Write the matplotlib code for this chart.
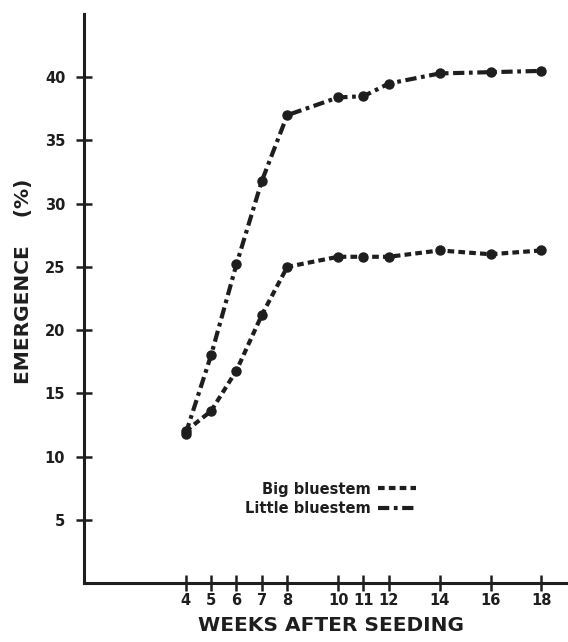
import matplotlib
matplotlib.use("Agg")
import matplotlib.pyplot as plt
from matplotlib.lines import Line2D

weeks = [4, 5, 6, 7, 8, 10, 11, 12, 14, 16, 18]
big_bluestem = [12.0, 13.6, 16.8, 21.2, 25.0, 25.8, 25.8, 25.8, 26.3, 26.0, 26.3]
little_bluestem = [11.8, 18.0, 25.2, 31.8, 37.0, 38.4, 38.5, 39.5, 40.3, 40.4, 40.5]
x_ticks = [4, 5, 6, 7, 8, 10, 11, 12, 14, 16, 18]
y_ticks = [5, 10, 15, 20, 25, 30, 35, 40]

plt.rcParams['font.family'] = ['DejaVu Sans']
plt.rcParams['font.weight'] = 'bold'

fig = plt.figure(figsize=(5.68, 6.42), dpi=100)
ax = fig.add_axes([84/568, 59/642, 484/568, 569/642])

ink = '#1e1e1e'
dash_lit = (2.7, 1.1, 0.9, 1.1)
dash_big = (1.6, 1.0)
ax.plot(weeks, little_bluestem, color=ink, lw=3.0, dashes=dash_lit,
        marker='o', ms=6.5, label='Little bluestem', dash_capstyle='butt')
ax.plot(weeks, big_bluestem, color=ink, lw=3.0, dashes=dash_big,
        marker='o', ms=6.5, label='Big bluestem', dash_capstyle='butt')

ax.set_xlim(0, 19.05)
ax.set_ylim(0, 45)
ax.spines['top'].set_visible(False)
ax.spines['right'].set_visible(False)
for s in ('left', 'bottom'):
    ax.spines[s].set_linewidth(2.2)
    ax.spines[s].set_color(ink)

ax.set_xticks(x_ticks)
ax.set_xticklabels([str(t) for t in x_ticks])
ax.set_yticks(y_ticks)
ax.set_yticklabels([str(t) for t in y_ticks])
ax.tick_params(direction='inout', length=11, width=1.8, color=ink,
               labelsize=10.5, labelcolor=ink)
ax.tick_params(axis='y', pad=8)
ax.tick_params(axis='x', pad=2)

ax.set_xlabel('WEEKS AFTER SEEDING', fontsize=14.5, fontweight='bold',
              color=ink)
ax.xaxis.set_label_coords(0.51, -0.058)
ax.set_ylabel('EMERGENCE    (%)', fontsize=14.5, fontweight='bold',
              color=ink)
ax.yaxis.set_label_coords(-0.105, 0.53)

h_big = Line2D([], [], color=ink, lw=3.0, dashes=dash_big)
h_lit = Line2D([], [], color=ink, lw=3.0, dashes=dash_lit)
leg = ax.legend([h_big, h_lit], ['Big bluestem', 'Little bluestem'],
                loc='center', bbox_to_anchor=(0.51, 0.148), frameon=False,
                markerfirst=False, handlelength=2.6, handletextpad=0.5,
                labelspacing=0.3, prop={'weight': 'bold', 'size': 10.5})
for t in leg.get_texts():
    t.set_color(ink)

fig.savefig('out.png', dpi=100)
